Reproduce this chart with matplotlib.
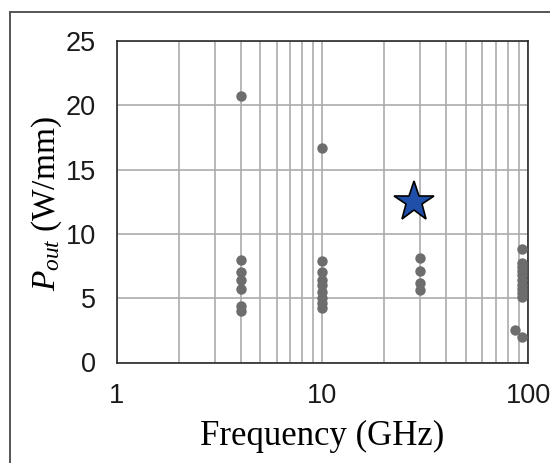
import numpy as np
import matplotlib
matplotlib.use('Agg')
from matplotlib import pyplot as plt
from matplotlib.patches import Rectangle
from matplotlib.ticker import LogLocator, NullFormatter, FixedLocator

# reported devices: frequency (GHz) and output power density (W/mm)
freq_4 = [4, 4, 4, 4, 4, 4, 4]
pout_4 = [20.7, 8.0, 7.0, 6.4, 5.7, 4.4, 4.0]

freq_10 = [10, 10, 10, 10, 10, 10, 10, 10, 10]
pout_10 = [16.7, 7.9, 7.0, 6.4, 6.0, 5.5, 5.0, 4.6, 4.2]

freq_30 = [30, 30, 30, 30]
pout_30 = [8.1, 7.1, 6.2, 5.6]

freq_94 = [94, 94, 94, 94, 94, 94, 94, 94, 94, 94, 86, 94]
pout_94 = [8.8, 7.7, 7.4, 7.1, 6.8, 6.4, 6.0, 5.7, 5.4, 5.1, 2.5, 2.0]

# this work
star_freq = [28]
star_pout = [12.5]

y_ticks = [0, 5, 10, 15, 20, 25]
x_ticks = [1, 10, 100]
x_ticklabels = ['1', '10', '100']

plt.rcParams['mathtext.fontset'] = 'custom'
plt.rcParams['mathtext.rm'] = 'Liberation Serif'
plt.rcParams['mathtext.it'] = 'Liberation Serif:italic'

W, H = 550, 463
fig = plt.figure(figsize=(W / 100, H / 100), dpi=100)

# outer frame around the whole panel
fig.patches.append(Rectangle((10 / W, -0.05), 1.2, 1 - 12 / H + 0.05,
                             transform=fig.transFigure, fill=False,
                             edgecolor='#555555', linewidth=1.4))

ax = fig.add_axes([116.7 / W, 1 - 362.5 / H, (528 - 116.7) / W, (362.5 - 41) / H])
ax.set_xscale('log')
ax.set_xlim(1, 100)
ax.set_ylim(0, 25)

grid_col = '#ababab'
ax.xaxis.set_major_locator(FixedLocator(x_ticks))
ax.xaxis.set_minor_locator(LogLocator(base=10, subs=np.arange(2, 10)))
ax.xaxis.set_minor_formatter(NullFormatter())
ax.set_xticklabels(x_ticklabels)
ax.set_yticks(y_ticks)
ax.grid(True, which='both', color=grid_col, linewidth=1.2)
ax.set_axisbelow(True)

for s in ax.spines.values():
    s.set_color('#2a2a2a')
    s.set_linewidth(1.2)

ax.tick_params(which='both', length=0)
ax.tick_params(axis='y', labelsize=19.5, pad=15, labelcolor='#1a1a1a')
ax.tick_params(axis='x', labelsize=19.5, pad=15, labelcolor='#1a1a1a')
for lab in ax.get_xticklabels() + ax.get_yticklabels():
    lab.set_family('Liberation Sans')

dot_col = '#6d6d6d'
for fx, py in [(freq_4, pout_4), (freq_10, pout_10), (freq_30, pout_30), (freq_94, pout_94)]:
    ax.plot(fx, py, 'o', color=dot_col, markersize=7.5, markeredgewidth=0, clip_on=False, zorder=3)

ax.plot(star_freq, star_pout, '*', color='#1f4fa8', markersize=30,
        markeredgecolor='black', markeredgewidth=1.2, zorder=4)

ax.set_xlabel('Frequency (GHz)', fontsize=25, family='Liberation Serif', labelpad=8)
fig.text(47 / W, 1 - 204 / H, r'$P_{out}\ \mathrm{(W/mm)}$', fontsize=24,
         rotation=90, ha='center', va='center')

fig.savefig('out.png', dpi=100)
